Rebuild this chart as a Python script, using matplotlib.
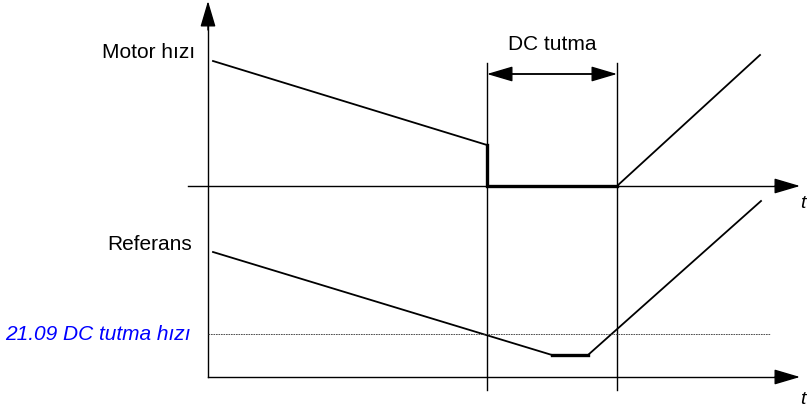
import matplotlib.pyplot as plt

plt.rcParams['font.family'] = ['Liberation Sans', 'DejaVu Sans']

# Diagram values (time from the left axis, level above each baseline)
motor_t = [5, 279, 279, 409, 552]
motor_v = [125, 41, 0, 0, 131]
ref_t = [5, 344, 380, 553]
ref_v = [125, 22, 22, 176]
dc_start, dc_end = 279, 409
dc_hold_level = 43

# Placement of the two panels on the canvas (pixels)
x0 = 208
top_y0 = 186
bot_y0 = 377

fig = plt.figure(figsize=(8.07, 4.13), dpi=100)
ax = fig.add_axes([0, 0, 1, 1])
ax.set_xlim(0, 807)
ax.set_ylim(413, 0)
ax.axis('off')

def arrow(x1, y1, x2, y2, style='-|>'):
    ax.annotate('', xy=(x2, y2), xytext=(x1, y1),
                arrowprops=dict(arrowstyle=style + ',head_length=1.15,head_width=0.34',
                                mutation_scale=14, lw=1.0, color='black',
                                shrinkA=0, shrinkB=0))

# axes
ax.plot([x0, x0], [20, bot_y0], color='black', lw=1.0)
arrow(x0, 30, x0, 1)
ax.plot([188, 785], [top_y0, top_y0], color='black', lw=1.0)
arrow(775, top_y0, 800, top_y0)
ax.plot([x0, 785], [bot_y0, bot_y0], color='black', lw=1.0)
arrow(775, bot_y0, 800, bot_y0)

# DC hold markers
for t in (dc_start, dc_end):
    ax.plot([x0 + t, x0 + t], [63, 390], color='black', lw=1.0)
ax.plot([x0 + dc_start + 5, x0 + dc_end - 5], [74, 74], color='black', lw=1.1)
arrow(x0 + dc_start, 74, x0 + dc_end, 74, style='<|-|>')
ax.text(x0 + (dc_start + dc_end) / 2, 45, 'DC tutma', ha='center', va='center', fontsize=15)

# motor speed
mx = [x0 + t for t in motor_t]
my = [top_y0 - v for v in motor_v]
ax.plot(mx[:2], my[:2], color='black', lw=1.3)
ax.plot(mx[1:4], my[1:4], color='black', lw=2.4, solid_joinstyle='miter')
ax.plot(mx[3:], my[3:], color='black', lw=1.3)

# reference
rx = [x0 + t for t in ref_t]
ry = [bot_y0 - v for v in ref_v]
ax.plot(rx[:2], ry[:2], color='black', lw=1.3)
ax.plot(rx[1:3], ry[1:3], color='black', lw=2.4)
ax.plot(rx[2:], ry[2:], color='black', lw=1.3)

# DC hold speed level
ax.plot([x0, 770], [bot_y0 - dc_hold_level] * 2, color='#333333', lw=0.6,
        linestyle=(0, (2, 1)))

# labels
ax.text(195, 52, 'Motor hızı', ha='right', va='center', fontsize=15)
ax.text(192, 245, 'Referans', ha='right', va='center', fontsize=15)
ax.text(5, 334, '21.09 DC tutma hızı', ha='left', va='center', fontsize=15,
        color='#0000ff', style='italic')
ax.text(800, 204, 't', ha='left', va='center', fontsize=14, style='italic')
ax.text(800, 400, 't', ha='left', va='center', fontsize=14, style='italic')

fig.savefig('out.png', dpi=100)
